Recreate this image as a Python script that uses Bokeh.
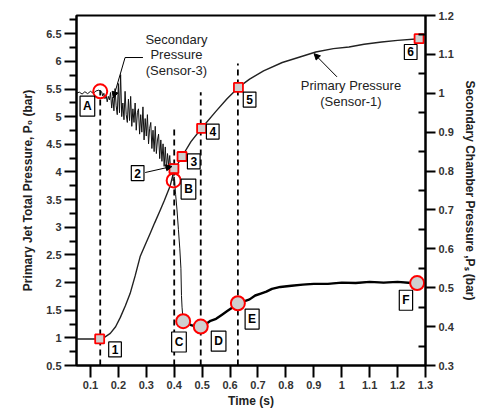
from bokeh.plotting import figure
from bokeh.models import Range1d, LinearAxis, FixedTicker, Label, Arrow, NormalHead
from bokeh.embed import file_html
from bokeh.resources import INLINE

# ---------------- data ----------------
# Primary pressure (Sensor-1), left axis (bar)
prim_t = [0.05, 0.07, 0.09, 0.11, 0.133, 0.15, 0.171, 0.19, 0.207, 0.225, 0.242, 0.26,
          0.278, 0.295, 0.313, 0.33, 0.349, 0.365, 0.385, 0.399, 0.428, 0.46, 0.498,
          0.55, 0.59, 0.63, 0.67, 0.72, 0.787, 0.85, 0.907, 0.97, 1.026, 1.08, 1.143,
          1.2, 1.277]
prim_p = [0.98, 0.98, 0.98, 0.98, 0.98, 1.01, 1.08, 1.2, 1.37, 1.58, 1.80, 2.12,
          2.47, 2.67, 2.88, 3.08, 3.30, 3.49, 3.74, 4.02, 4.28, 4.55, 4.79,
          5.1, 5.33, 5.53, 5.68, 5.83, 5.98, 6.08, 6.17, 6.23, 6.26, 6.31, 6.35,
          6.38, 6.41]

# Secondary pressure (Sensor-3), right axis (bar)
sec_t = [0.05, 0.06, 0.07, 0.08, 0.09, 0.10, 0.11, 0.12, 0.13, 0.135,
         0.140, 0.144, 0.148, 0.152, 0.156, 0.160, 0.164, 0.168, 0.172, 0.176,
         0.180, 0.184, 0.188, 0.192, 0.196, 0.200, 0.204, 0.208, 0.212, 0.216,
         0.220, 0.224, 0.228, 0.232, 0.236, 0.240, 0.244, 0.248, 0.252, 0.256,
         0.260, 0.264, 0.268, 0.272, 0.276, 0.280, 0.284, 0.288, 0.292, 0.296,
         0.300, 0.304, 0.308, 0.312, 0.316, 0.320, 0.324, 0.328, 0.332, 0.336,
         0.340, 0.344, 0.348, 0.352, 0.356, 0.360, 0.364, 0.368, 0.372, 0.376,
         0.380, 0.384, 0.388, 0.392, 0.396, 0.400,
         0.405, 0.410, 0.415, 0.420, 0.424, 0.426, 0.428, 0.432, 0.44, 0.45,
         0.46, 0.47, 0.48, 0.495, 0.51, 0.53, 0.55, 0.57, 0.59, 0.61, 0.628,
         0.65, 0.67, 0.69, 0.71, 0.73, 0.75, 0.78, 0.82, 0.86, 0.90, 0.95,
         1.0, 1.05, 1.1, 1.15, 1.2, 1.25, 1.27]
sec_p = [1.0, 1.003, 0.998, 1.004, 0.999, 1.005, 1.0, 1.006, 1.008, 1.006,
         1.004, 0.993, 1.000, 0.986, 0.995, 0.978, 0.992, 0.983, 1.002, 0.962,
         0.990, 0.955, 1.012, 0.968, 0.945, 1.025, 0.950, 1.048, 0.940, 0.975,
         0.932, 1.005, 0.945, 0.925, 0.985, 0.930, 0.992, 0.915, 0.960, 0.925,
         0.975, 0.905, 0.950, 0.960, 0.895, 0.945, 0.900, 0.965, 0.880, 0.935,
         0.890, 0.945, 0.870, 0.910, 0.925, 0.858, 0.905, 0.850, 0.915, 0.845,
         0.880, 0.895, 0.832, 0.880, 0.825, 0.870, 0.812, 0.862, 0.805, 0.845,
         0.815, 0.840, 0.790, 0.820, 0.775, 0.785,
         0.74, 0.70, 0.65, 0.60, 0.55, 0.48, 0.45, 0.414, 0.41, 0.408,
         0.404, 0.402, 0.398, 0.40, 0.405, 0.415, 0.42, 0.43, 0.44, 0.45, 0.46,
         0.465, 0.47, 0.48, 0.485, 0.49, 0.497, 0.502, 0.505, 0.508, 0.51, 0.51,
         0.513, 0.512, 0.515, 0.513, 0.515, 0.512, 0.512]
SETTLED_FROM = 0.432  # after the sudden drop the trace is drawn thicker

# marked points
sq_t = [0.133, 0.399, 0.428, 0.498, 0.630, 1.277]
sq_p = [0.98, 4.06, 4.28, 4.79, 5.53, 6.41]
sq_labels = ["1", "2", "3", "4", "5", "6"]
sq_lab_t = [0.188, 0.269, 0.470, 0.538, 0.670, 1.247]
sq_lab_p = [0.79, 3.98, 4.19, 4.73, 5.31, 6.17]

ci_t = [0.135, 0.398, 0.432, 0.495, 0.628, 1.27]
ci_p = [1.005, 0.776, 0.414, 0.40, 0.46, 0.512]
ci_fill = ["white", "white", "#cfcfcf", "#cfcfcf", "#cfcfcf", "#cfcfcf"]
ci_alpha = [0.0, 0.0, 1.0, 1.0, 1.0, 1.0]
ci_labels = ["A", "B", "C", "D", "E", "F"]
ci_lab_t = [0.089, 0.451, 0.417, 0.559, 0.679, 1.23]
ci_lab_p = [5.19, 3.69, 0.925, 0.94, 1.34, 1.68]

# dashed guide lines (time, top value on left axis)
dash_t = [0.135, 0.40, 0.495, 0.628]
dash_top = [5.48, 4.80, 5.44, 5.96]

# ticks
x_ticks = [0.1, 0.2, 0.3, 0.4, 0.5, 0.6, 0.7, 0.8, 0.9, 1.0, 1.1, 1.2, 1.3]
yl_ticks = [0.5, 1.0, 1.5, 2.0, 2.5, 3.0, 3.5, 4.0, 4.5, 5.0, 5.5, 6.0, 6.5]
yl_minor = [0.75, 1.25, 1.75, 2.25, 2.75, 3.25, 3.75, 4.25, 4.75, 5.25, 5.75, 6.25, 6.75]
yr_ticks = [0.3, 0.4, 0.5, 0.6, 0.7, 0.8, 0.9, 1.0, 1.1, 1.2]
yr_minor = [0.35, 0.45, 0.55, 0.65, 0.75, 0.85, 0.95, 1.05, 1.15]

FONT = "Liberation Sans"

p = figure(width=479, height=410, output_backend="svg", toolbar_location=None,
           x_range=Range1d(0.05, 1.3), y_range=Range1d(0.5, 6.83),
           min_border_left=76, min_border_right=51, min_border_top=15, min_border_bottom=45)
p.extra_y_ranges = {"sec": Range1d(0.3, 1.2)}
p.xgrid.visible = False
p.ygrid.visible = False
p.outline_line_color = "black"
p.outline_line_width = 2
p.background_fill_color = "white"


def style_axis(ax):
    ax.axis_line_width = 2
    ax.axis_line_color = "black"
    ax.major_tick_line_width = 2
    ax.major_tick_line_color = "black"
    ax.minor_tick_line_width = 2
    ax.minor_tick_line_color = "black"
    ax.major_label_text_font = FONT
    ax.major_label_text_font_style = "bold"
    ax.major_label_text_font_size = "11px"
    ax.major_label_text_color = "#333333"
    ax.axis_label_text_font = FONT
    ax.axis_label_text_font_style = "bold"
    ax.axis_label_text_font_size = "12px"
    ax.axis_label_text_color = "#222222"


xa = p.xaxis[0]
xa.ticker = FixedTicker(ticks=x_ticks)
xa.major_label_overrides = {t: f"{t:g}" for t in x_ticks}
xa.axis_label = "Time (s)"
style_axis(xa)
xa.major_tick_out = 12
xa.major_tick_in = 0
xa.major_label_standoff = 3
xa.axis_label_standoff = 2

ya = p.yaxis[0]
ya.ticker = FixedTicker(ticks=yl_ticks, minor_ticks=yl_minor)
ya.major_label_overrides = {t: f"{t:g}" for t in yl_ticks}
ya.axis_label = "Primary Jet Total Pressure, P\u2080 (bar)"
style_axis(ya)
ya.major_tick_out = 12
ya.major_tick_in = 0
ya.minor_tick_out = 7
ya.minor_tick_in = 0
ya.major_label_standoff = 3
ya.axis_label_standoff = 8

ra = LinearAxis(y_range_name="sec")
ra.ticker = FixedTicker(ticks=yr_ticks, minor_ticks=yr_minor)
ra.major_label_overrides = {t: f"{t:g}" for t in yr_ticks}
ra.axis_label = "Secondary Chamber Pressure ,P\u209b (bar)"
style_axis(ra)
ra.major_tick_out = 10
ra.major_tick_in = 0
ra.minor_tick_out = 0
ra.minor_tick_in = 7
ra.major_label_standoff = 3
ra.axis_label_standoff = 6
p.add_layout(ra, "right")

# dashed guides
p.segment(x0=dash_t, y0=[0.5] * len(dash_t), x1=dash_t, y1=dash_top,
          line_color="black", line_width=1.8, line_dash="6 4")

# curves
p.line(prim_t, prim_p, line_color="#222222", line_width=1.4)
p.line(sec_t, sec_p, y_range_name="sec", line_color="#111111", line_width=1.0)
i0 = sec_t.index(SETTLED_FROM)
p.line(sec_t[i0:], sec_p[i0:], y_range_name="sec", line_color="black", line_width=2.4)

# markers
p.scatter(sq_t, sq_p, marker="square", size=9, fill_color="#cfcfcf",
          line_color="red", line_width=1.8)
p.scatter(ci_t, ci_p, y_range_name="sec", marker="circle", size=14,
          fill_color=ci_fill, fill_alpha=ci_alpha,
          line_color="red", line_width=2)

# boxed labels
for txt, tx, ty in zip(sq_labels + ci_labels, sq_lab_t + ci_lab_t, sq_lab_p + ci_lab_p):
    p.add_layout(Label(x=tx, y=ty, text=txt, text_align="center", text_baseline="middle",
                       text_font=FONT, text_font_style="bold", text_font_size="12px",
                       text_color="black", background_fill_color="white",
                       border_line_color="black", border_line_width=1.2, padding=3))

# annotation texts
for txt, tx, ty in [("Secondary", 0.408, 6.40), ("Pressure", 0.408, 6.13),
                    ("(Sensor-3)", 0.408, 5.84),
                    ("Primary Pressure", 1.033, 5.56), ("(Sensor-1)", 1.033, 5.28)]:
    p.add_layout(Label(x=tx, y=ty, text=txt, text_align="center", text_baseline="middle",
                       text_font=FONT, text_font_size="13px", text_color="#222222"))

# leader lines / arrows
p.line([0.288, 0.224], [6.07, 6.07], line_color="black", line_width=1)
p.add_layout(Arrow(end=NormalHead(size=6, fill_color="black", line_color="black"),
                   x_start=0.224, y_start=6.07, x_end=0.182, y_end=5.34,
                   line_color="black", line_width=1))
p.add_layout(Arrow(end=NormalHead(size=6, fill_color="black", line_color="black"),
                   x_start=0.983, y_start=5.72, x_end=0.901, y_end=6.14,
                   line_color="black", line_width=1))
p.add_layout(Arrow(end=NormalHead(size=6, fill_color="black", line_color="black"),
                   x_start=0.296, y_start=3.99, x_end=0.392, y_end=4.10,
                   line_color="black", line_width=1))

open("out.html", "w").write(file_html(p, INLINE))
